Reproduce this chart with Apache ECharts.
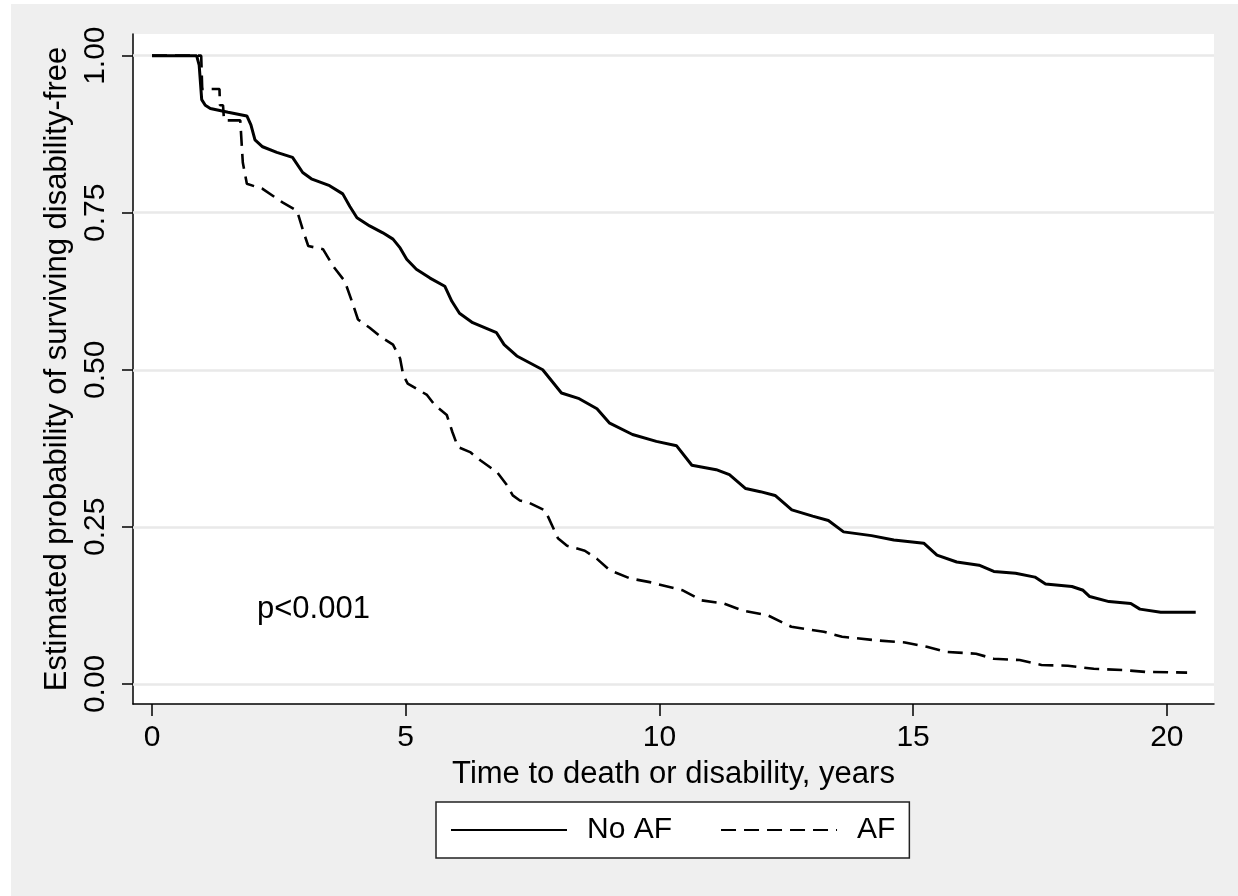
<!DOCTYPE html>
<html>
<head>
<meta charset="utf-8">
<script src="https://cdn.jsdelivr.net/npm/echarts@6/dist/echarts.min.js"></script>
<style>
html,body{margin:0;padding:0;background:#fff;width:1238px;height:896px;overflow:hidden;}
#c{position:absolute;left:11px;top:4px;width:1227px;height:892px;}
</style>
</head>
<body>
<div id="c"></div>
<script>
var xTicks = [0, 5, 10, 15, 20];
var yTicks = [0, 0.25, 0.5, 0.75, 1];
var seriesNames = ['No AF', 'AF'];

var noAfTime = [0,0.88,0.93,0.98,1.05,1.15,1.50,1.87,1.95,2.03,2.18,2.46,2.77,2.97,3.14,3.50,3.76,3.90,4.04,4.29,4.55,4.75,4.89,5.02,5.21,5.48,5.77,5.91,6.06,6.32,6.79,6.94,7.19,7.70,8.07,8.42,8.77,9.02,9.47,9.94,10.34,10.64,11.12,11.38,11.70,11.99,12.28,12.61,13.02,13.33,13.63,14.18,14.62,15.21,15.47,15.86,16.30,16.59,17.02,17.40,17.61,18.13,18.35,18.48,18.86,19.29,19.47,19.88,20.57];
var noAfSurv = [1.000,1.000,0.985,0.930,0.921,0.916,0.910,0.904,0.890,0.866,0.855,0.846,0.838,0.814,0.804,0.793,0.780,0.760,0.742,0.729,0.718,0.708,0.694,0.676,0.660,0.646,0.633,0.609,0.590,0.575,0.559,0.540,0.522,0.500,0.463,0.454,0.438,0.415,0.397,0.386,0.379,0.348,0.341,0.333,0.311,0.306,0.300,0.277,0.267,0.260,0.242,0.236,0.229,0.224,0.205,0.194,0.189,0.179,0.176,0.170,0.159,0.155,0.149,0.139,0.131,0.128,0.119,0.114,0.114];

var afTime = [0,0.97,0.99,1.33,1.34,1.40,1.42,1.74,1.79,1.87,2.18,2.58,2.86,2.98,3.08,3.37,3.57,3.80,3.94,4.06,4.29,4.50,4.75,4.89,4.95,5.04,5.42,5.57,5.81,5.92,6.03,6.27,6.47,6.80,6.99,7.11,7.25,7.44,7.75,8.00,8.18,8.53,8.77,9.02,9.42,9.81,10.46,10.83,11.27,11.63,12.14,12.60,13.24,13.60,14.32,14.84,15.27,15.64,16.24,16.59,17.10,17.53,18.05,18.56,19.15,19.59,20.40];
var afSurv = [1.000,1.000,0.947,0.947,0.921,0.921,0.897,0.897,0.830,0.796,0.788,0.766,0.753,0.721,0.697,0.692,0.665,0.641,0.609,0.580,0.567,0.553,0.540,0.518,0.492,0.478,0.460,0.444,0.428,0.401,0.377,0.369,0.356,0.337,0.317,0.300,0.292,0.288,0.276,0.232,0.220,0.212,0.199,0.181,0.168,0.162,0.149,0.133,0.128,0.117,0.109,0.091,0.083,0.075,0.069,0.066,0.059,0.051,0.048,0.040,0.038,0.030,0.029,0.024,0.022,0.019,0.018];

function pairs(xs, ys){ return xs.map(function(x,i){ return [x, ys[i]]; }); }

var FONT = 'Liberation Sans, Arial, Helvetica, sans-serif';
var chart = echarts.init(document.getElementById('c'), null, {renderer:'canvas'});
chart.setOption({
  backgroundColor: '#efefef',
  animation: false,
  grid: {left: 122, top: 30, right: 24, bottom: 192, show: true, backgroundColor: '#ffffff', borderWidth: 0, containLabel: false},
  xAxis: {
    type: 'value', min: -0.374, max: 20.93,
    name: 'Time to death or disability, years', nameLocation: 'middle', nameGap: 55,
    nameTextStyle: {fontFamily: FONT, fontSize: 31, color: '#000'},
    axisLine: {show: true, onZero: false, lineStyle: {color: '#000', width: 1.5}},
    axisTick: {show: true, length: 12, customValues: xTicks, lineStyle: {color: '#000', width: 1.5}},
    axisLabel: {show: true, customValues: xTicks, margin: 19, fontFamily: FONT, fontSize: 30, color: '#000'},
    splitLine: {show: false}
  },
  yAxis: {
    type: 'value', min: -0.032, max: 1.0345,
    name: 'Estimated probability of surviving disability-free', nameLocation: 'middle', nameGap: 59,
    nameTextStyle: {fontFamily: FONT, fontSize: 31, color: '#000'},
    axisLine: {show: true, onZero: false, lineStyle: {color: '#000', width: 1.5}},
    axisTick: {show: true, length: 11, customValues: yTicks, lineStyle: {color: '#000', width: 1.5}},
    axisLabel: {show: true, customValues: yTicks, rotate: 90, margin: 22, fontFamily: FONT, fontSize: 30, color: '#000',
      formatter: function(v){ return v.toFixed(2); }},
    splitLine: {show: false}
  },
  legend: {
    data: seriesNames, left: 425, top: 798, orient: 'horizontal',
    itemWidth: 116, itemHeight: 2, itemGap: 48,
    padding: [13, 14, 13, 14],
    itemStyle: {opacity: 0},
    backgroundColor: '#fff', borderColor: '#222', borderWidth: 1.5, borderRadius: 0,
    textStyle: {fontFamily: FONT, fontSize: 30, color: '#000', padding: [0, 0, 0, 15]}
  },
  graphic: [{
    type: 'text', left: 246, top: 590,
    style: {text: 'p<0.001', fontFamily: FONT, fontSize: 31, fill: '#000'}
  }],
  series: [
    {
      type: 'line', name: 'grid', data: [], z: 1, silent: true, legendHoverLink: false,
      markLine: {silent: true, z: 1, symbol: 'none', label: {show: false},
        lineStyle: {color: '#e9e9e9', width: 2.5, type: 'solid'},
        data: yTicks.map(function(v){ return {yAxis: v}; })}
    },
    {
      type: 'line', name: seriesNames[0], data: pairs(noAfTime, noAfSurv), z: 3,
      symbol: 'none', showSymbol: false, smooth: false,
      lineStyle: {color: '#000', width: 3, type: 'solid'}, itemStyle: {color: '#000'}
    },
    {
      type: 'line', name: seriesNames[1], data: pairs(afTime, afSurv), z: 3,
      symbol: 'none', showSymbol: false, smooth: false,
      lineStyle: {color: '#000', width: 2.6, type: [15, 8]}, itemStyle: {color: '#000'}
    }
  ]
});
</script>
</body>
</html>
